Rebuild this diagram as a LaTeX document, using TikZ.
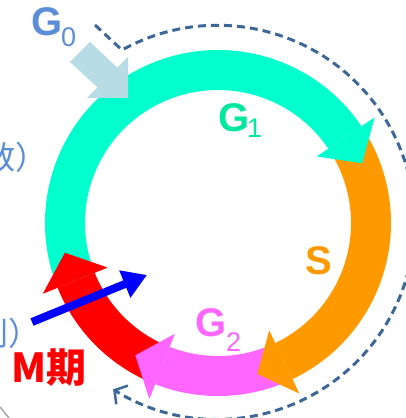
\documentclass[tikz,border=0pt]{standalone}
\usepackage{fontspec}
\setmainfont{Liberation Sans}
\newfontfamily\cjk{Noto Sans CJK JP}
\usetikzlibrary{arrows.meta}
\definecolor{ringcyan}{HTML}{00FFCC}
\definecolor{ringorange}{HTML}{FF9900}
\definecolor{ringpink}{HTML}{FF66FF}
\definecolor{ringred}{HTML}{FF0000}
\definecolor{gzeroblue}{HTML}{5B8ED6}
\definecolor{gzeroarrow}{HTML}{B7DCE6}
\definecolor{gonetext}{HTML}{00E89C}
\definecolor{dashcol}{HTML}{3D6699}
\newcommand\ringseg[3]{\fill[#1] (#2:133pt) arc[start angle=#2,end angle=#3,radius=133pt] -- (#3:173pt) arc[start angle=#3,end angle=#2,radius=173pt] -- cycle;}
\newcommand\ringhead[3]{\fill[#1] (#2:119pt) -- (#2:189pt) -- (#3:156pt) -- cycle;}
\tikzset{
  biglabel/.style={inner sep=0pt, anchor=base west, font=\bfseries\fontsize{40}{40}\selectfont},
  sublabel/.style={inner sep=0pt, anchor=base west, font=\fontsize{27}{27}\selectfont},
  sidelabel/.style={inner sep=0pt, anchor=east, text=gzeroblue, font=\cjk\fontsize{32}{32}\selectfont}
}
\begin{document}
\begin{tikzpicture}[x=1pt,y=1pt]
\useasboundingbox (0,0) rectangle (405,418);
% ring
\begin{scope}[shift={(218,195)}]
  \ringseg{ringcyan}{200}{34}
  \ringseg{ringorange}{30}{-64.5}
  \ringseg{ringpink}{-68}{-111.3}
  \ringseg{ringred}{-115}{-158}
  \ringhead{ringcyan}{34}{22.5}
  \ringhead{ringorange}{-64.5}{-75.4}
  \ringhead{ringpink}{-111.3}{-122}
  \ringhead{ringred}{-158}{-169}
\end{scope}
% dashed cycle
\coordinate (dstart) at (95,393);
\coordinate (dcorner) at (122,368);
\draw[dashcol, line width=3pt, dash pattern=on 8pt off 5pt, -{Straight Barb[length=9pt,width=22pt,line width=2.5pt]}]
  (dstart) -- (dcorner) arc[start angle=119, end angle=-122, radius=197pt];
% G0 entry arrow
\fill[gzeroarrow] (70,356) -- (90,376) -- (117.4,350.4) -- (128,361) -- (128,320) -- (87,320) -- (97.6,330.6) -- cycle;
% blue arrow
\coordinate (btail) at (32,96);
\coordinate (btip) at (147,143);
\draw[blue, line width=8pt, -{Triangle[length=24pt,width=28pt]}] (btail) -- (btip);
% labels
\node[biglabel, text=gzeroblue] (g0) at (31,382) {G};
\node[sublabel, text=gzeroblue] (g0s) at (61,371) {0};
\node[biglabel, text=gonetext] (g1) at (218,286) {G};
\node[sublabel, text=gonetext] (g1s) at (247,280) {1};
\node[biglabel, text=ringorange] (s) at (305,143) {S};
\node[biglabel, text=ringpink] (g2) at (195,81) {G};
\node[sublabel, text=ringpink] (g2s) at (226,66) {2};
\node[inner sep=0pt, anchor=base west, text=ringred, font=\cjk\bfseries\fontsize{40}{40}\selectfont] (m) at (11,35) {M期};
\node[sidelabel] (sa) at (48,261) {数）};
\node[sidelabel] (sb) at (41,85) {列）};
% corner stroke
\draw[gray!70, line width=1.5pt] (0,11) -- (9,0);
\end{tikzpicture}
\end{document}
